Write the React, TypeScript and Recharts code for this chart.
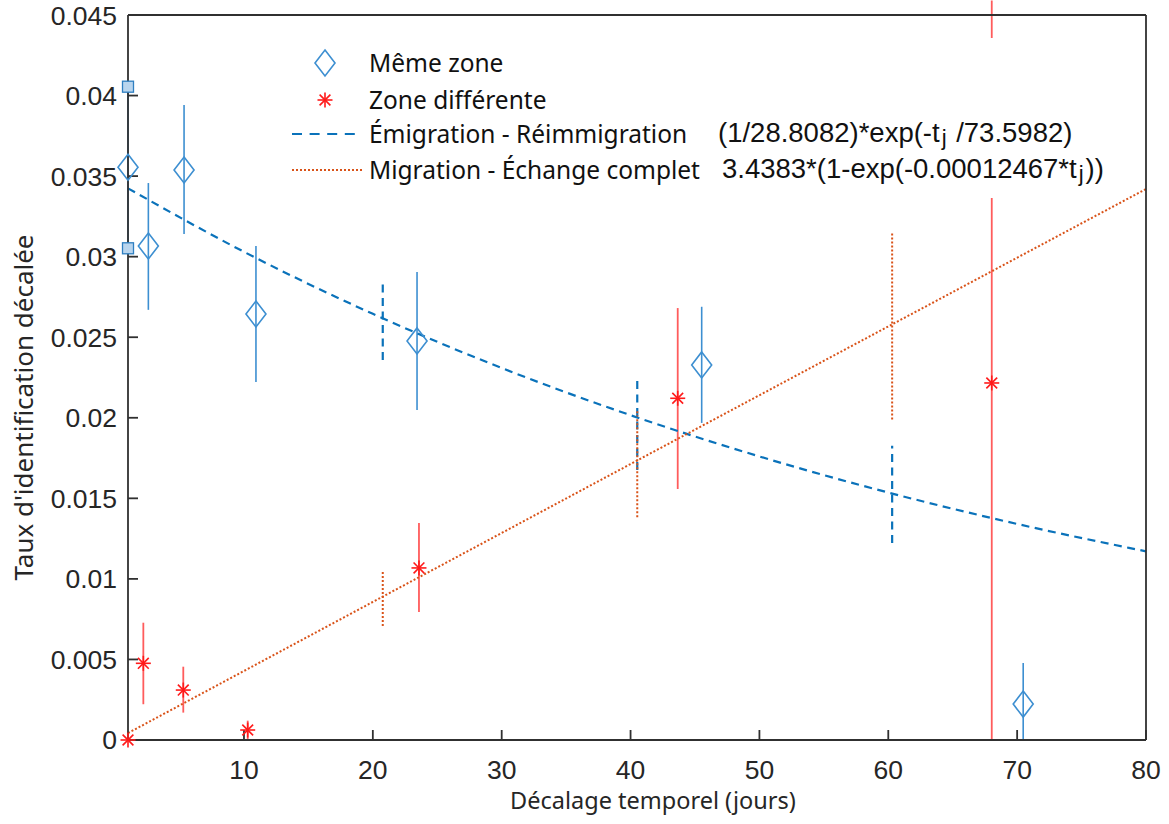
import { ComposedChart, XAxis, YAxis, Scatter, Line, ReferenceLine } from "recharts";

// Même zone (diamonds) with error bars
const memeX = [1, 2.58, 5.35, 10.93, 23.43, 45.52, 70.47];
const memeY = [0.03555, 0.03066, 0.03538, 0.02644, 0.02477, 0.02328, 0.00223];
const memeLo = [0.0305, 0.0267, 0.0314, 0.02222, 0.02048, 0.01968, 0];
const memeHi = [0.0405, 0.03457, 0.03941, 0.03066, 0.02905, 0.02689, 0.00478];

// end markers of the first error bar, sitting on the left axis
const capX = [1, 1];
const capY = [0.04055, 0.03052];

// Zone différente (stars) with error bars
const diffX = [1, 2.19, 5.29, 10.29, 23.58, 43.66, 68.03];
const diffY = [0, 0.00476, 0.0031, 0.00062, 0.01068, 0.02121, 0.02216];
const diffLo = [0, 0.00222, 0.0017, 0, 0.00794, 0.01558, 0];
const diffHi = [0, 0.00728, 0.00455, 0.0012, 0.01347, 0.02681, 0.0459];

// fitted curves
const emigX = [1, 10, 20, 30, 40, 50, 60, 70, 80];
const emigY = [0.03424, 0.0303, 0.02645, 0.02309, 0.02016, 0.0176, 0.01536, 0.01341, 0.01171];
const migX = [1, 20, 40, 60, 80];
const migY = [0.00043, 0.00857, 0.01713, 0.02567, 0.0342];

// uncertainty bars of the fits
const fitX = [20.77, 40.52, 60.3];
const emigLo = [0.02359, 0.01676, 0.01223];
const emigHi = [0.02855, 0.02228, 0.01827];
const migLo = [0.00708, 0.01382, 0.0199];
const migHi = [0.01055, 0.02048, 0.03153];

const xTicks = [10, 20, 30, 40, 50, 60, 70, 80];
const yTicks = [0, 0.005, 0.01, 0.015, 0.02, 0.025, 0.03, 0.035, 0.04, 0.045];

const BLUE = "#0a72ba";
const BLUE_LIGHT = "#3d8fd1";
const RED = "#ff1a1a";
const RED_LIGHT = "#ff5c5c";
const ORANGE = "#d95319";
const AXIS = "#303030";
const TEXT = "#262626";

const memeData = memeX.map((x, i) => ({ x, y: memeY[i] }));
const capData = capX.map((x, i) => ({ x, y: capY[i] }));
const diffData = diffX.map((x, i) => ({ x, y: diffY[i] }));
const emigData = emigX.map((x, i) => ({ x, y: emigY[i] }));
const migData = migX.map((x, i) => ({ x, y: migY[i] }));

const Diamond = (p: any) => (
  <polygon
    points={`${p.cx},${p.cy - 13} ${p.cx + 10},${p.cy} ${p.cx},${p.cy + 13} ${p.cx - 10},${p.cy}`}
    fill="none"
    stroke={BLUE_LIGHT}
    strokeWidth={1.6}
  />
);

const Star = (p: any) => {
  const r = 7.5;
  const d = r * 0.72;
  return (
    <g stroke={RED} strokeWidth={1.6}>
      <line x1={p.cx - r} y1={p.cy} x2={p.cx + r} y2={p.cy} />
      <line x1={p.cx} y1={p.cy - r} x2={p.cx} y2={p.cy + r} />
      <line x1={p.cx - d} y1={p.cy - d} x2={p.cx + d} y2={p.cy + d} />
      <line x1={p.cx - d} y1={p.cy + d} x2={p.cx + d} y2={p.cy - d} />
    </g>
  );
};

const Square = (p: any) => (
  <rect x={p.cx - 5.5} y={p.cy - 5.5} width={11} height={11} fill="#b9d5ee" stroke="#2f7fc1" strokeWidth={1.3} />
);

const XLabel = (props: any) => {
  const vb = props.viewBox;
  return (
    <text x={vb.x + vb.width / 2 + 16} y={vb.y + 69} textAnchor="middle" fill={TEXT} fontSize={23.5} fontFamily="Noto Sans">
      Décalage temporel (jours)
    </text>
  );
};

const YLabel = (props: any) => {
  const vb = props.viewBox;
  const x = vb.x + 15;
  const y = vb.y + vb.height / 2 + 30;
  return (
    <text x={x} y={y} transform={`rotate(-90 ${x} ${y})`} textAnchor="middle" fill={TEXT} fontSize={26} fontFamily="Noto Sans">
      Taux d'identification décalée
    </text>
  );
};

const tickStyle = { fill: TEXT, fontSize: 26.5, fontFamily: "Liberation Sans" };

const legendText = { fontFamily: "Noto Sans", fontSize: 24.5, color: "#111", position: "absolute" as const, left: 84, lineHeight: "30px" };
const formulaText = { fontFamily: "Liberation Sans", fontSize: 27.5, color: "#111", position: "absolute" as const, lineHeight: "30px", whiteSpace: "nowrap" as const };
const sub = { fontSize: "0.8em", position: "relative" as const, top: "0.12em", margin: "0 2px" };

function LegendBox() {
  return (
    <div style={{ position: "absolute", left: 285, top: 38, width: 830, height: 160, background: "#fff" }}>
      <svg width={90} height={160} style={{ position: "absolute", left: 0, top: 0 }}>
        <Diamond cx={40} cy={25} />
        <Star cx={40} cy={62} />
        <line x1={7} y1={96} x2={70} y2={96} stroke={BLUE} strokeWidth={2.2} strokeDasharray="10 7.6" />
        <line x1={7} y1={132} x2={77} y2={132} stroke={ORANGE} strokeWidth={2} strokeDasharray="2 2" />
      </svg>
      <div style={{ ...legendText, top: 10 }}>Même zone</div>
      <div style={{ ...legendText, top: 47 }}>Zone différente</div>
      <div style={{ ...legendText, top: 81 }}>Émigration - Réimmigration</div>
      <div style={{ ...legendText, top: 117 }}>Migration - Échange complet</div>
      <div style={{ ...formulaText, left: 433, top: 80 }}>
        (1/28.8082)*exp(-t<span style={sub}>j</span> /73.5982)
      </div>
      <div style={{ ...formulaText, left: 437, top: 116 }}>
        3.4383*(1-exp(-0.00012467*t<span style={sub}>j</span>))
      </div>
    </div>
  );
}

export default function App() {
  return (
    <div style={{ position: "absolute", left: 0, top: 0, width: 1169, height: 824, background: "#fff" }}>
      <ComposedChart width={1169} height={824} margin={{ top: 14, right: 22, bottom: 0, left: 18 }}>
        <XAxis
          dataKey="x"
          type="number"
          domain={[1, 80]}
          ticks={xTicks}
          height={84}
          stroke={AXIS}
          strokeWidth={1.8}
          tickSize={-10}
          tickMargin={30}
          tick={tickStyle}
          label={<XLabel />}
        />
        <XAxis
          xAxisId="top"
          orientation="top"
          type="number"
          domain={[1, 80]}
          ticks={xTicks}
          allowDataOverflow
          height={1}
          stroke={AXIS}
          strokeWidth={1.8}
          tickSize={-10}
          tick={false}
        />
        <YAxis
          dataKey="y"
          type="number"
          domain={[0, 0.045]}
          ticks={yTicks}
          width={110}
          stroke={AXIS}
          strokeWidth={1.8}
          tickSize={-10}
          tickMargin={21}
          tick={tickStyle}
          label={<YLabel />}
        />
        <YAxis
          yAxisId="right"
          orientation="right"
          type="number"
          domain={[0, 0.045]}
          ticks={yTicks}
          allowDataOverflow
          width={1}
          stroke={AXIS}
          strokeWidth={1.8}
          tickSize={-10}
          tick={false}
        />

        {fitX.map((x, i) => (
          <ReferenceLine
            key={`eb${i}`}
            segment={[{ x, y: emigLo[i] }, { x, y: emigHi[i] }]}
            stroke={BLUE}
            strokeWidth={2.2}
            strokeDasharray="8 5.5"
            ifOverflow="visible"
          />
        ))}
        {fitX.map((x, i) => (
          <ReferenceLine
            key={`mb${i}`}
            segment={[{ x, y: migLo[i] }, { x, y: migHi[i] }]}
            stroke={ORANGE}
            strokeWidth={2}
            strokeDasharray="2 2"
            ifOverflow="visible"
          />
        ))}
        {memeX.map((x, i) => (
          <ReferenceLine
            key={`me${i}`}
            segment={[{ x, y: memeLo[i] }, { x, y: memeHi[i] }]}
            stroke={BLUE_LIGHT}
            strokeWidth={1.6}
            ifOverflow="visible"
          />
        ))}
        {diffX.map((x, i) => (
          <ReferenceLine
            key={`de${i}`}
            segment={[{ x, y: diffLo[i] }, { x, y: diffHi[i] }]}
            stroke={RED_LIGHT}
            strokeWidth={1.8}
            ifOverflow="visible"
          />
        ))}

        <Line
          data={emigData}
          dataKey="y"
          type="monotone"
          stroke={BLUE}
          strokeWidth={2.2}
          strokeDasharray="8 5.5"
          dot={false}
          activeDot={false}
          isAnimationActive={false}
        />
        <Line
          data={migData}
          dataKey="y"
          type="linear"
          stroke={ORANGE}
          strokeWidth={2}
          strokeDasharray="2 2"
          dot={false}
          activeDot={false}
          isAnimationActive={false}
        />
        <Scatter data={memeData} shape={<Diamond />} isAnimationActive={false} />
        <Scatter data={capData} shape={<Square />} isAnimationActive={false} />
        <Scatter data={diffData} shape={<Star />} isAnimationActive={false} />
      </ComposedChart>
      <LegendBox />
    </div>
  );
}
